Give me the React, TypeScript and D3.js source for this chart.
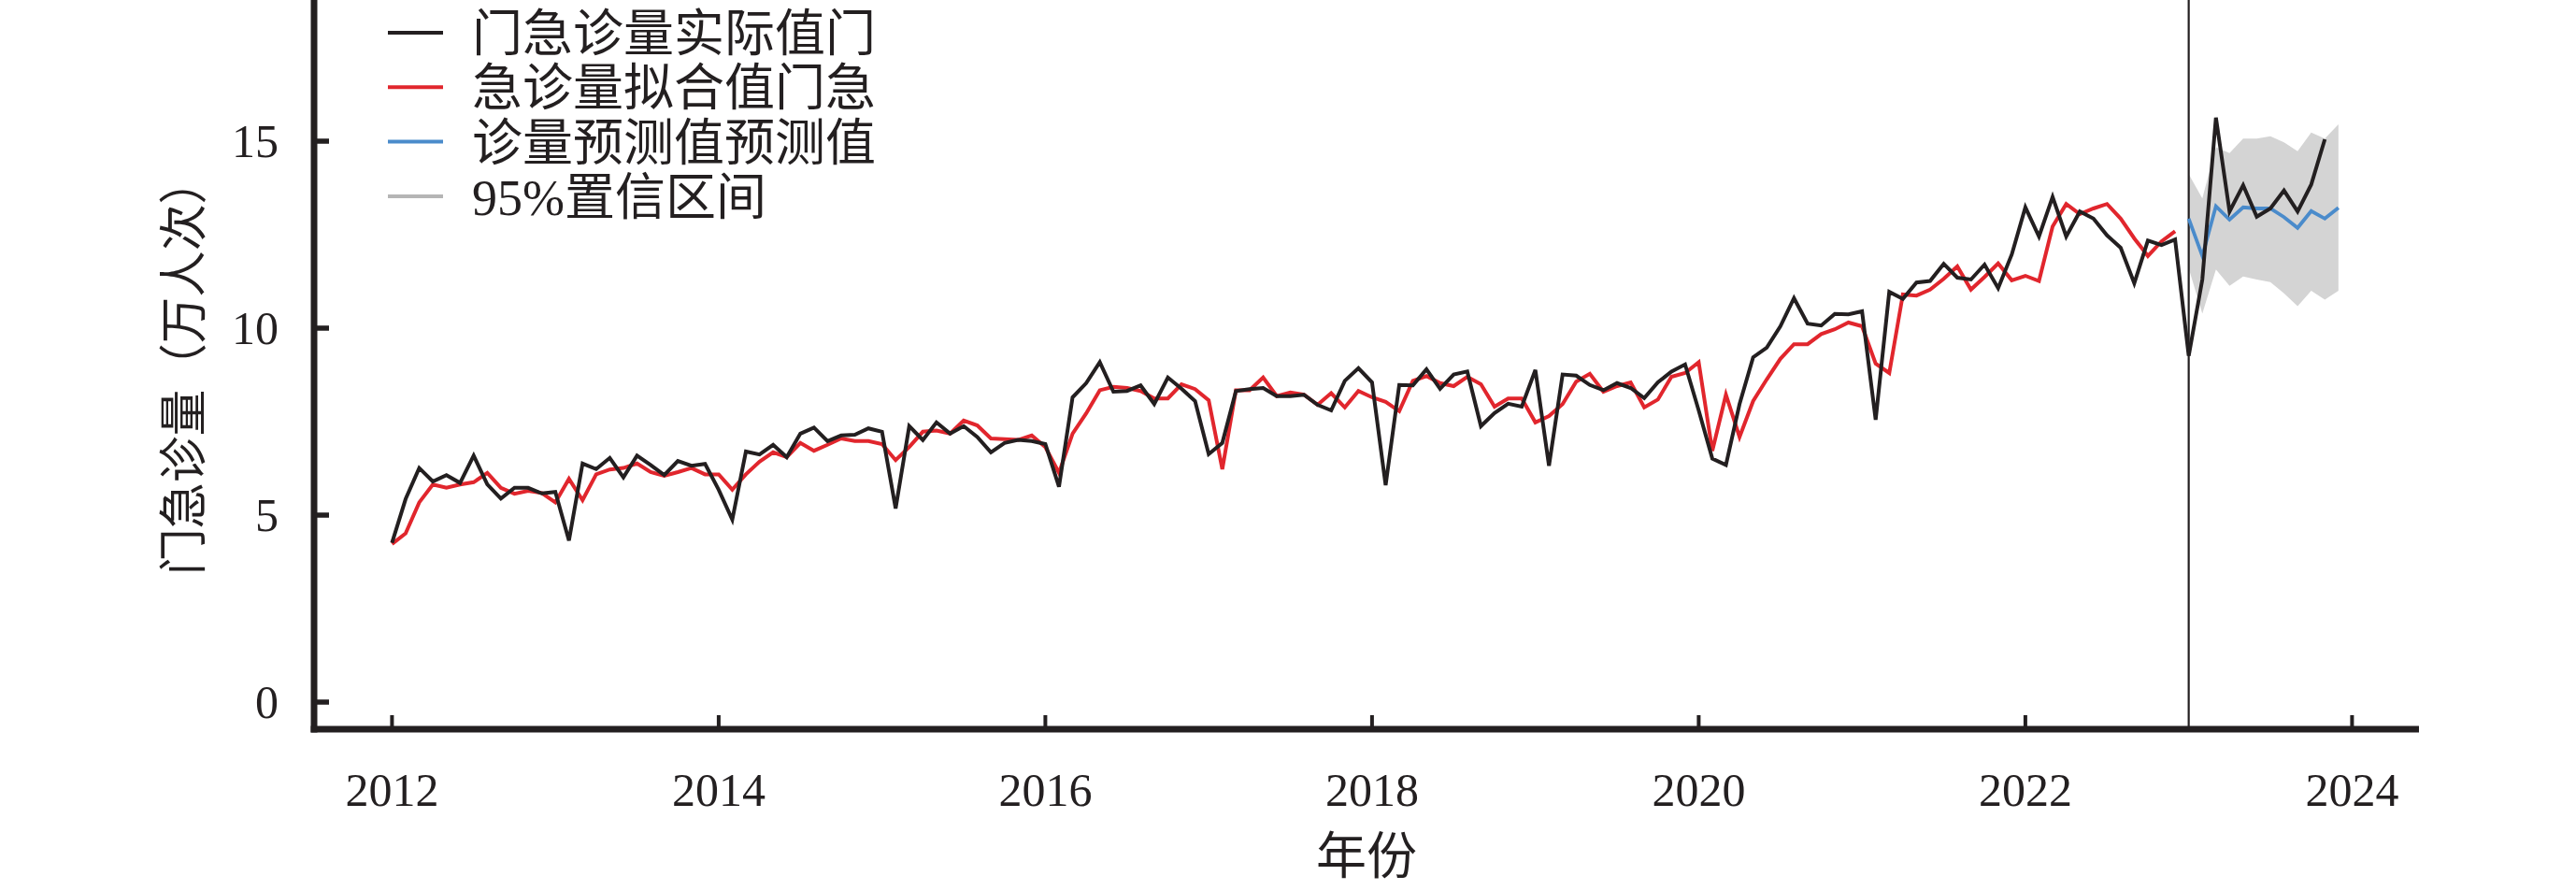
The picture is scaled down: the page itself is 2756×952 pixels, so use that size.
import React from "react";
import * as d3 from "d3";

// ---- data (万人次), monthly from Jan 2012 ----
const startYear = 2012;
const actual: number[] = [
  4.26, 5.43, 6.26, 5.9, 6.07, 5.86, 6.59, 5.82, 5.44, 5.73, 5.73, 5.58,
  5.62, 4.32, 6.38, 6.23, 6.53, 6.01, 6.59, 6.34, 6.07, 6.45, 6.32, 6.37,
  5.68, 4.88, 6.7, 6.62, 6.88, 6.55, 7.18, 7.34, 6.98, 7.13, 7.15, 7.32,
  7.23, 5.18, 7.38, 7.01, 7.48, 7.18, 7.38, 7.09, 6.68, 6.93, 7.01, 6.98,
  6.9, 5.76, 8.15, 8.53, 9.09, 8.3, 8.32, 8.47, 7.97, 8.68, 8.38, 8.05,
  6.63, 6.93, 8.32, 8.37, 8.4, 8.18, 8.18, 8.22, 7.95, 7.8, 8.59, 8.93,
  8.55, 5.8, 8.48, 8.47, 8.9, 8.38, 8.76, 8.84, 7.38, 7.73, 7.98, 7.9,
  8.88, 6.32, 8.76, 8.73, 8.48, 8.34, 8.53, 8.4, 8.13, 8.55, 8.84, 9.03,
  7.8, 6.51, 6.34, 7.97, 9.22, 9.48, 10.05, 10.8, 10.12, 10.07, 10.38, 10.37,
  10.45, 7.55, 10.97, 10.78, 11.22, 11.26, 11.72, 11.35, 11.3, 11.7, 11.07, 11.97,
  13.23, 12.45, 13.51, 12.45, 13.12, 12.93, 12.48, 12.15, 11.2, 12.34, 12.22, 12.37,
  9.26, 11.3, 15.63, 13.12, 13.82, 12.98, 13.2, 13.68, 13.12, 13.84, 15.05,
];
const fitted: number[] = [
  4.23, 4.51, 5.34, 5.82, 5.73, 5.82, 5.88, 6.13, 5.73, 5.57, 5.65, 5.59,
  5.34, 5.97, 5.4, 6.09, 6.22, 6.26, 6.38, 6.15, 6.05, 6.15, 6.26, 6.09,
  6.09, 5.68, 6.09, 6.43, 6.68, 6.55, 6.93, 6.72, 6.88, 7.05, 6.98, 6.98,
  6.9, 6.47, 6.82, 7.23, 7.26, 7.18, 7.53, 7.4, 7.05, 7.03, 7.01, 7.13,
  6.82, 6.13, 7.18, 7.72, 8.34, 8.43, 8.4, 8.32, 8.12, 8.12, 8.5, 8.37,
  8.07, 6.23, 8.34, 8.34, 8.68, 8.18, 8.28, 8.22, 7.95, 8.26, 7.88, 8.32,
  8.15, 8.03, 7.78, 8.59, 8.72, 8.53, 8.45, 8.7, 8.5, 7.9, 8.12, 8.12,
  7.48, 7.65, 7.97, 8.57, 8.78, 8.3, 8.45, 8.55, 7.88, 8.09, 8.7, 8.8,
  9.09, 6.72, 8.22, 7.09, 8.05, 8.63, 9.18, 9.57, 9.57, 9.84, 9.97, 10.15,
  10.05, 9.05, 8.8, 10.9, 10.87, 11.03, 11.32, 11.65, 11.03, 11.37, 11.73, 11.28,
  11.4, 11.26, 12.72, 13.32, 13.05, 13.2, 13.32, 12.93, 12.4, 11.93, 12.32, 12.59,
];
const forecastStart = 132; // Jan 2023
const forecast: number[] = [12.93, 11.93, 13.26, 12.9, 13.23, 13.2, 13.2, 12.97, 12.68, 13.13, 12.93, 13.22];
const upper95: number[] = [14.12, 13.47, 14.84, 14.68, 15.07, 15.07, 15.13, 14.97, 14.73, 15.23, 15.07, 15.45];
const lower95: number[] = [11.6, 10.39, 11.57, 11.13, 11.38, 11.3, 11.23, 10.93, 10.59, 11.0, 10.76, 11.0];

const yTicks: number[] = [0, 5, 10, 15];
const xTickYears: number[] = [2012, 2014, 2016, 2018, 2020, 2022, 2024];
const legendLabels: string[] = ["门急诊量实际值门", "急诊量拟合值门急", "诊量预测值预测值", "95%置信区间"];
const yTitle = "门急诊量（万人次）";
const xTitle = "年份";

const C_BLACK = "#231f20";
const C_RED = "#e1262d";
const C_BLUE = "#4a8bcb";
const C_BAND = "#d4d4d4";
const C_LEG_GRAY = "#b5b5b5";
const FONT = "'Liberation Serif', 'Noto Sans CJK SC', serif";

export default function App() {
  const W = 2756, H = 952;
  const x = d3.scaleLinear().domain([2012, 2024]).range([419.4, 2516.4]);
  const y = d3.scaleLinear().domain([0, 15]).range([751, 151]);
  const t = (i: number) => startYear + i / 12;

  const axisX = 336; // y-axis line x
  const axisY = 780; // x-axis line y
  const xRight = 2588;

  const line = d3.line<[number, number]>().x((d) => x(d[0])).y((d) => y(d[1]));
  const actualPts: [number, number][] = actual.map((v, i) => [t(i), v]);
  const fittedPts: [number, number][] = fitted.map((v, i) => [t(i), v]);
  const fcPts: [number, number][] = forecast.map((v, i) => [t(forecastStart + i), v]);
  const area = d3
    .area<number>()
    .x((_, i) => x(t(forecastStart + i)))
    .y0((_, i) => y(lower95[i]))
    .y1((_, i) => y(upper95[i]));

  const legendColors = [C_BLACK, C_RED, C_BLUE, C_LEG_GRAY];
  const legendY0 = 35, legendDy = 58.3;

  return (
    <svg width={W} height={H} style={{ position: "absolute", left: 0, top: 0, background: "#fff" }} fontFamily={FONT}>
      <rect x={0} y={0} width={W} height={H} fill="#fff" />
      {/* band */}
      <path d={area(upper95) || ""} fill={C_BAND} stroke="none" />
      {/* vertical divider */}
      <line x1={x(t(forecastStart))} x2={x(t(forecastStart))} y1={0} y2={axisY} stroke={C_BLACK} strokeWidth={2.2} />
      {/* lines */}
      <path d={line(fcPts) || ""} fill="none" stroke={C_BLUE} strokeWidth={3.8} />
      <path d={line(fittedPts) || ""} fill="none" stroke={C_RED} strokeWidth={4} />
      <path d={line(actualPts) || ""} fill="none" stroke={C_BLACK} strokeWidth={4} />

      {/* axes */}
      <line x1={axisX} x2={axisX} y1={0} y2={axisY + 3.5} stroke={C_BLACK} strokeWidth={7} />
      <line x1={axisX - 3.5} x2={xRight} y1={axisY} y2={axisY} stroke={C_BLACK} strokeWidth={7} />
      {yTicks.map((v) => (
        <g key={"yt" + v}>
          <line x1={axisX} x2={axisX + 16} y1={y(v)} y2={y(v)} stroke={C_BLACK} strokeWidth={5.5} />
          <text x={298} y={y(v)} dy="0.34em" textAnchor="end" fontSize={50} fill={C_BLACK}>
            {v}
          </text>
        </g>
      ))}
      {xTickYears.map((yr) => (
        <g key={"xt" + yr}>
          <line x1={x(yr)} x2={x(yr)} y1={axisY} y2={axisY - 15} stroke={C_BLACK} strokeWidth={4} />
          <text x={x(yr)} y={862} textAnchor="middle" fontSize={50} fill={C_BLACK}>
            {yr}
          </text>
        </g>
      ))}
      <text x={1462} y={935} textAnchor="middle" fontSize={54} fill={C_BLACK}>
        {xTitle}
      </text>
      <text
        transform={`translate(197,392) rotate(-90)`}
        textAnchor="middle"
        dominantBaseline="central"
        fontSize={52}
        textLength={446}
        lengthAdjust="spacingAndGlyphs"
        fill={C_BLACK}
      >
        {yTitle}
      </text>

      {/* legend */}
      {legendLabels.map((lab, i) => (
        <g key={"lg" + i}>
          <line x1={415} x2={474} y1={legendY0 + i * legendDy} y2={legendY0 + i * legendDy} stroke={legendColors[i]} strokeWidth={4} />
          <text x={505} y={legendY0 + i * legendDy + 2} dominantBaseline="central" fontSize={54} fill={C_BLACK}>
            {lab}
          </text>
        </g>
      ))}
    </svg>
  );
}
